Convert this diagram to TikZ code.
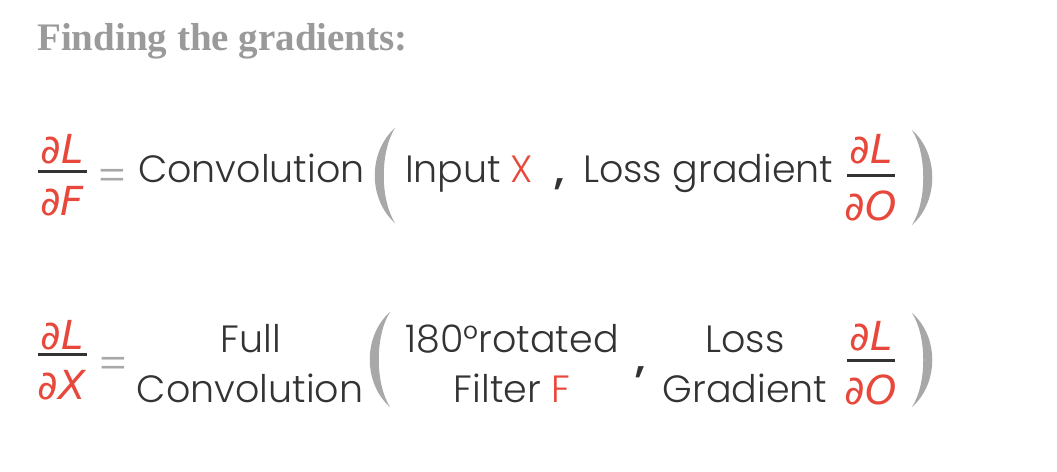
\documentclass[tikz,border=0pt]{standalone}
\usepackage{fontspec}
\usepackage{tikz}
\IfFontExistsTF{Poppins Light}{\setmainfont{Poppins Light}[BoldFont=Poppins SemiBold]}{\setmainfont{Poppins}}
\newfontfamily\titlefont{Liberation Serif}
\newfontfamily\partfont{DejaVu Sans}

\definecolor{gradred}{HTML}{E8483B}
\definecolor{inkgray}{HTML}{333333}
\definecolor{parengray}{HTML}{A8A8A8}
\definecolor{titlegray}{HTML}{9A9A9A}

\tikzset{
  word/.style={inner sep=0pt, text=inkgray, font=\fontsize{38}{38}\selectfont},
  redword/.style={word, text=gradred},
  part/.style={inner sep=0pt, anchor=base, text=gradred, font=\partfont\itshape\fontsize{40}{40}\selectfont},
  bar/.style={line width=3pt, inkgray},
  eqsign/.style={inner sep=0pt, text=parengray, font=\fontsize{44}{44}\selectfont}
}

\begin{document}
\begin{tikzpicture}[x=1pt, y=-1pt]
  \useasboundingbox (0,0) rectangle (1057,471);

  % Title
  \node[anchor=base west, inner sep=0pt, text=titlegray, font=\titlefont\bfseries\fontsize{39}{39}\selectfont]
    (title) at (37,50) {Finding the gradients:};

  % First equation: dL/dF
  \node[part] (dLF) at (62,163) {∂L};
  \node[part] (dF) at (62,215) {∂F};
  \draw[bar] (38,171) -- (87,171);
  \node[eqsign] (eqF) at (112,180) {=};
  \node[word, anchor=base west] (convF) at (138,182) {Convolution};
  \node[word, anchor=base west] (input) at (405,182) {Input};
  \node[redword, anchor=base west] (inX) at (510,182) {X};
  \node[word, anchor=base west, font=\bfseries\fontsize{40}{40}\selectfont] (commaF) at (554,184) {,};
  \node[word, anchor=base west] (lossF) at (583,182) {Loss gradient};
  \node[part] (dLO1) at (871,163) {∂L};
  \node[part] (dO1) at (871,220) {∂O};
  \draw[bar] (847,175) -- (895,175);

  % Second equation: dL/dX
  \node[part] (dLX) at (62,349) {∂L};
  \node[part] (dX) at (62,399) {∂X};
  \draw[bar] (38,354) -- (87,354);
  \node[eqsign] (eqX) at (113,368) {=};
  \node[word, anchor=base] (full) at (251,352) {Full};
  \node[word, anchor=base] (convX) at (250,402) {Convolution};
  \node[word, anchor=base] (rot) at (512,352) {180°rotated};
  \node[word, anchor=base] (filt) at (512,402) {Filter \textcolor{gradred}{F}};
  \node[word, anchor=base west, font=\bfseries\fontsize{40}{40}\selectfont] (commaX) at (635,372) {,};
  \node[word, anchor=base] (lossX) at (745,352) {Loss};
  \node[word, anchor=base] (gradX) at (745,402) {Gradient};
  \node[part] (dLO2) at (871,350) {∂L};
  \node[part] (dO2) at (871,404) {∂O};
  \draw[bar] (847,360) -- (895,360);

  % Parentheses
  \foreach \x/\ya/\yb/\d in {395/128/223/-1, 912/130/225/1, 390/312/407/-1, 912/313/407/1}
    \fill[parengray] (\x,\ya)
      .. controls ({\x+\d*27},{\ya+(\yb-\ya)/4}) and ({\x+\d*27},{\yb-(\yb-\ya)/4}) .. (\x,\yb)
      .. controls ({\x+\d*15},{\yb-(\yb-\ya)/4}) and ({\x+\d*15},{\ya+(\yb-\ya)/4}) .. cycle;
\end{tikzpicture}
\end{document}
